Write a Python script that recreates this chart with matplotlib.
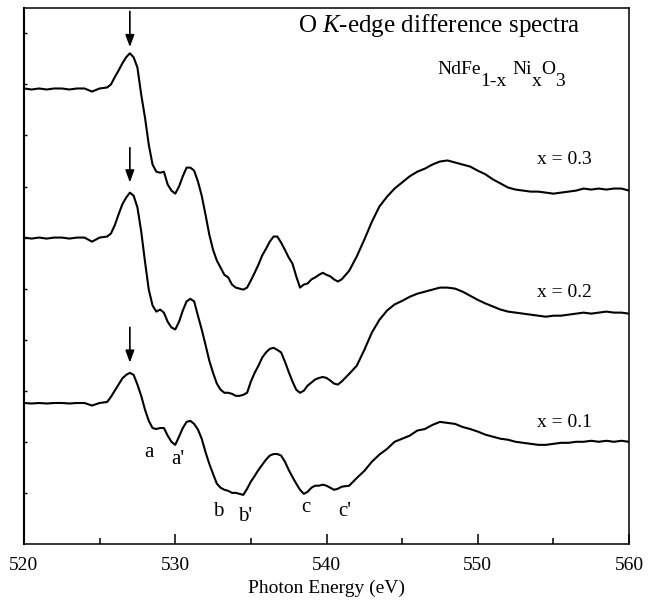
import numpy as np
import matplotlib
matplotlib.use('Agg')
import matplotlib.pyplot as plt

plt.rcParams['font.family'] = ['Liberation Serif', 'DejaVu Serif']
plt.rcParams['mathtext.fontset'] = 'custom'
plt.rcParams['mathtext.rm'] = 'Liberation Serif'
plt.rcParams['mathtext.it'] = 'Liberation Serif:italic'

# photon energy grid (eV): coarse in flat parts, finer across the edge structure
energy = np.concatenate([np.arange(520.0, 525.51, 0.5),
                         np.arange(525.75, 541.01, 0.25),
                         np.arange(541.5, 560.01, 0.5)])

# stacked difference spectra (arb. units, offsets as plotted)
spec_x03 = [
    8.92, 8.90, 8.92, 8.90, 8.92, 8.92, 8.90, 8.92, 8.92, 8.86, 8.92, 8.94,
    9.00, 9.14, 9.27, 9.41, 9.53, 9.61, 9.53, 9.33, 8.80, 8.35, 7.82, 7.43,
    7.29, 7.27, 7.29, 7.04, 6.92, 6.86, 7.00, 7.20, 7.37, 7.37, 7.31, 7.10,
    6.82, 6.45, 6.06, 5.76, 5.55, 5.41, 5.27, 5.22, 5.08, 5.02, 5.00, 4.98,
    5.02, 5.16, 5.31, 5.47, 5.65, 5.78, 5.92, 6.02, 6.02, 5.90, 5.76, 5.61,
    5.49, 5.24, 5.02, 5.08, 5.10, 5.18, 5.22, 5.27, 5.31, 5.27, 5.24, 5.18,
    5.14, 5.18,
    5.35, 5.63, 5.96, 6.31, 6.61, 6.80, 6.96, 7.08, 7.20, 7.29, 7.35, 7.43,
    7.49, 7.51, 7.47, 7.43, 7.39, 7.31, 7.24, 7.14, 7.06, 6.98, 6.94, 6.92,
    6.90, 6.90, 6.88, 6.86, 6.88, 6.90, 6.92, 6.96, 6.94, 6.96, 6.94, 6.96,
    6.96, 6.92,
]
spec_x02 = [
    6.00, 5.98, 6.00, 5.98, 6.00, 6.00, 5.98, 6.00, 6.00, 5.92, 6.00, 6.02,
    6.08, 6.24, 6.45, 6.65, 6.78, 6.88, 6.82, 6.59, 6.12, 5.53, 4.98, 4.67,
    4.55, 4.59, 4.53, 4.35, 4.24, 4.20, 4.35, 4.57, 4.75, 4.80, 4.75, 4.47,
    4.20, 3.90, 3.59, 3.35, 3.14, 3.02, 2.96, 2.96, 2.94, 2.90, 2.90, 2.92,
    2.96, 3.18, 3.35, 3.49, 3.65, 3.75, 3.82, 3.84, 3.80, 3.75, 3.57, 3.37,
    3.18, 3.02, 2.96, 3.00, 3.10, 3.16, 3.22, 3.25, 3.27, 3.25, 3.20, 3.14,
    3.12, 3.18,
    3.33, 3.49, 3.80, 4.14, 4.39, 4.57, 4.69, 4.76, 4.84, 4.90, 4.94, 4.98,
    5.02, 5.02, 5.00, 4.94, 4.86, 4.78, 4.71, 4.65, 4.59, 4.55, 4.53, 4.51,
    4.49, 4.47, 4.45, 4.47, 4.47, 4.49, 4.51, 4.53, 4.51, 4.53, 4.55, 4.53,
    4.53, 4.51,
]
spec_x01 = [
    2.76, 2.75, 2.76, 2.75, 2.76, 2.76, 2.75, 2.76, 2.76, 2.71, 2.76, 2.78,
    2.88, 3.00, 3.12, 3.24, 3.31, 3.35, 3.31, 3.12, 2.90, 2.63, 2.41, 2.27,
    2.25, 2.27, 2.27, 2.12, 2.00, 1.94, 2.10, 2.27, 2.39, 2.41, 2.35, 2.24,
    2.06, 1.80, 1.57, 1.37, 1.18, 1.10, 1.06, 1.04, 1.00, 1.00, 0.98, 0.96,
    1.08, 1.22, 1.33, 1.45, 1.55, 1.65, 1.73, 1.76, 1.76, 1.73, 1.61, 1.45,
    1.31, 1.18, 1.06, 0.98, 1.02, 1.10, 1.14, 1.14, 1.16, 1.14, 1.10, 1.06,
    1.08, 1.12,
    1.14, 1.29, 1.43, 1.61, 1.75, 1.86, 2.00, 2.06, 2.12, 2.22, 2.25, 2.33,
    2.39, 2.37, 2.35, 2.29, 2.25, 2.20, 2.14, 2.10, 2.06, 2.04, 2.00, 1.98,
    1.96, 1.94, 1.94, 1.96, 1.98, 1.98, 2.00, 2.00, 2.02, 2.00, 2.02, 2.00,
    2.02, 2.00,
]
spectra = [spec_x03, spec_x02, spec_x01]
comp_labels = ['x = 0.3', 'x = 0.2', 'x = 0.1']
xticks = [520, 530, 540, 550, 560]

fig = plt.figure(figsize=(6.66, 6.01), dpi=100)
ax = fig.add_axes([0.036, 0.095, 0.9085, 0.892])

for s in spectra:
    ax.plot(energy, s, color='black', lw=1.5)

ax.set_xlim(520, 560)
ax.set_ylim(0, 10.5)
ax.set_xticks(xticks)
ax.set_xticks(np.arange(525, 560, 10), minor=True)
ax.set_yticks(np.arange(1, 11))
ax.set_yticklabels([])
ax.tick_params(axis='x', which='major', direction='in', length=7, width=1.1,
               labelsize=14, pad=9.5)
ax.tick_params(axis='x', which='minor', direction='in', length=4, width=1.1)
ax.tick_params(axis='y', direction='in', length=2, width=1)
for sp in ax.spines.values():
    sp.set_linewidth(1.1)
ax.spines['left'].set_linewidth(1.5)
ax.set_xlabel('Photon Energy (eV)', fontsize=14, labelpad=4)

# title text inside the frame
ax.text(538.1, 10.16, 'O $K$-edge difference spectra', fontsize=18,
        ha='left', va='center')

# chemical formula with full-size lowered indices
t = ax.text(547.3, 9.20, 'NdFe', fontsize=14, ha='left', va='baseline')
for piece, dx, dy in [('1-x', 0, -8.7), ('Ni', 4, 8.7), ('x', 0, -8.7),
                      ('O', 0, 8.7), ('3', 0, -8.7)]:
    t = ax.annotate(piece, xy=(1, 0), xycoords=t, xytext=(dx, dy),
                    textcoords='offset points', fontsize=14,
                    ha='left', va='bottom')

for lab, yy in zip(comp_labels, [7.53, 4.92, 2.37]):
    ax.text(555.75, yy, lab, fontsize=14, ha='center', va='center')

# arrows marking the pre-edge peak
for y0, y1 in [(10.43, 9.73), (7.76, 7.08), (4.24, 3.55)]:
    ax.annotate('', xy=(527.0, y1), xytext=(527.0, y0),
                arrowprops=dict(arrowstyle='-|>,head_length=0.6,head_width=0.22',
                                mutation_scale=12, color='black', lw=1.2,
                                shrinkA=0, shrinkB=0))

# feature labels
for lab, ex, yy in [('a', 528.26, 1.80), ("a'", 530.18, 1.65),
                    ('b', 532.83, 0.63), ("b'", 534.61, 0.53),
                    ('c', 538.64, 0.71), ("c'", 541.22, 0.63)]:
    ax.text(ex, yy, lab, fontsize=15, ha='center', va='center')

fig.savefig('out.png', dpi=100)
